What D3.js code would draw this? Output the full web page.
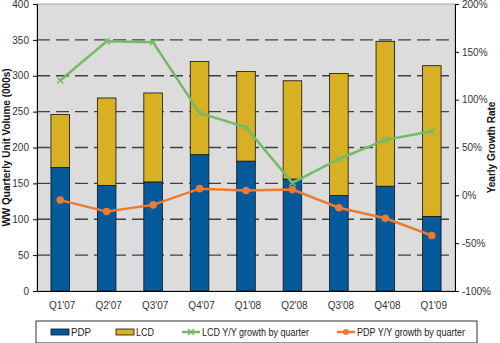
<!DOCTYPE html>
<html>
<head>
<meta charset="utf-8">
<script src="https://cdn.jsdelivr.net/npm/d3@7"></script>
<style>
  body { margin: 0; background: #fff; }
  svg { display: block; font-family: "Liberation Sans", Arial, sans-serif; }
  .tick text { font-size: 10px; fill: #333; }
</style>
</head>
<body>
<svg id="chart" width="500" height="343"></svg>
<script>
// quarters and values
const quarters = ["Q1'07", "Q2'07", "Q3'07", "Q4'07", "Q1'08", "Q2'08", "Q3'08", "Q4'08", "Q1'09"];
const pdpUnits = [172, 147, 152, 190, 181, 156, 133, 146, 104];
const lcdUnits = [74, 122, 124, 130, 125, 137, 170, 202, 210];
const lcdGrowth = [120, 161, 160, 86, 71, 13, 38, 58, 67];
const pdpGrowth = [-5, -17, -10, 7, 5, 6, -13, -24, -42];

const volTicks = [0, 50, 100, 150, 200, 250, 300, 350, 400];
const rateTicks = [-100, -50, 0, 50, 100, 150, 200];

const colors = { pdp: '#045a9a', lcd: '#d8b023', lcdLine: '#74ba67', pdpLine: '#ee7a30' };

const svg = d3.select('#chart');
const plot = { left: 37, right: 455, top: 4, bottom: 291 };

const x = d3.scaleBand().domain(quarters).range([plot.left, plot.right]).paddingInner(0.6).paddingOuter(0.3);
const yVol = d3.scaleLinear().domain([0, 400]).range([plot.bottom, plot.top]);
const yRate = d3.scaleLinear().domain([-100, 200]).range([plot.bottom, plot.top]);

// plot background
svg.append('rect')
    .attr('x', plot.left).attr('y', plot.top)
    .attr('width', plot.right - plot.left).attr('height', plot.bottom - plot.top)
    .attr('fill', '#dcdcdc')
    .attr('stroke', '#a8a8a8');

// dashed gridlines
svg.append('g')
    .selectAll('line')
    .data(volTicks.filter((t) => t > 0 && t < 400))
    .join('line')
    .attr('x1', plot.left).attr('x2', plot.right)
    .attr('y1', (d) => yVol(d)).attr('y2', (d) => yVol(d))
    .attr('stroke', '#404040')
    .attr('stroke-width', 1.3)
    .attr('stroke-dasharray', '13,6');

// stacked bars
const stacks = quarters.map((q, i) => ({ q, pdp: pdpUnits[i], lcd: lcdUnits[i] }));
const bars = svg.append('g').selectAll('g').data(stacks).join('g');
bars.append('rect')
    .attr('x', (d) => x(d.q)).attr('width', x.bandwidth())
    .attr('y', (d) => yVol(d.pdp)).attr('height', (d) => yVol(0) - yVol(d.pdp))
    .attr('fill', colors.pdp).attr('stroke', '#111').attr('stroke-width', 0.8);
bars.append('rect')
    .attr('x', (d) => x(d.q)).attr('width', x.bandwidth())
    .attr('y', (d) => yVol(d.pdp + d.lcd)).attr('height', (d) => yVol(d.pdp) - yVol(d.pdp + d.lcd))
    .attr('fill', colors.lcd).attr('stroke', '#111').attr('stroke-width', 0.8);

const cx = (q) => x(q) + x.bandwidth() / 2;

function drawLine(values, color, marker) {
    const pts = quarters.map((q, i) => [cx(q), yRate(values[i])]);
    svg.append('path')
        .attr('d', d3.line()(pts))
        .attr('fill', 'none').attr('stroke', color).attr('stroke-width', 2.5);
    const g = svg.append('g');
    if (marker === 'circle') {
        g.selectAll('circle').data(pts).join('circle')
            .attr('cx', (d) => d[0]).attr('cy', (d) => d[1]).attr('r', 3.8)
            .attr('fill', color);
    } else {
        g.selectAll('path').data(pts).join('path')
            .attr('d', (d) => `M${d[0] - 3},${d[1] - 3}L${d[0] + 3},${d[1] + 3}M${d[0] + 3},${d[1] - 3}L${d[0] - 3},${d[1] + 3}`)
            .attr('stroke', color).attr('stroke-width', 1.5);
    }
}
drawLine(lcdGrowth, colors.lcdLine, 'x');
drawLine(pdpGrowth, colors.pdpLine, 'circle');

// axes
const leftAxis = svg.append('g')
    .attr('transform', `translate(${plot.left},0)`)
    .call(d3.axisLeft(yVol).tickValues(volTicks).tickSize(4).tickPadding(4));
const rightAxis = svg.append('g')
    .attr('transform', `translate(${plot.right},0)`)
    .call(d3.axisRight(yRate).tickValues(rateTicks).tickSize(4).tickPadding(3).tickFormat((d) => d + '%'));
[leftAxis, rightAxis].forEach((a) => {
    a.select('.domain').attr('stroke', '#000');
    a.selectAll('.tick line').attr('stroke', '#000');
    a.selectAll('.tick text').attr('font-family', '"Liberation Sans", Arial, sans-serif');
});

const bottomAxis = svg.append('g')
    .attr('transform', `translate(0,${plot.bottom})`)
    .call(d3.axisBottom(x).tickSize(0).tickPadding(11));
bottomAxis.select('.domain').attr('stroke', '#000');
bottomAxis.selectAll('.tick text')
    .attr('font-family', '"Liberation Sans", Arial, sans-serif')
    .attr('dx', 2);

// axis titles
svg.append('text')
    .attr('transform', `translate(10,${(plot.top + plot.bottom) / 2}) rotate(-90)`)
    .attr('text-anchor', 'middle')
    .attr('font-size', 10).attr('font-weight', 'bold').attr('fill', '#111')
    .text('WW Quarterly Unit Volume (000s)');
svg.append('text')
    .attr('transform', `translate(495,${(plot.top + plot.bottom) / 2}) rotate(-90)`)
    .attr('text-anchor', 'middle')
    .attr('font-size', 10).attr('font-weight', 'bold').attr('fill', '#111')
    .text('Yearly Growth Rate');

// legend
const legend = svg.append('g');
legend.append('rect')
    .attr('x', 36).attr('y', 321).attr('width', 441).attr('height', 22)
    .attr('fill', '#fff').attr('stroke', '#000').attr('stroke-width', 0.8);

const legendItems = [
    { label: 'PDP', type: 'bar', color: colors.pdp, x: 51, w: 20 },
    { label: 'LCD', type: 'bar', color: colors.lcd, x: 116, w: 18 },
    { label: 'LCD Y/Y growth by quarter', type: 'x', color: colors.lcdLine, x: 182, w: 107 },
    { label: 'PDP Y/Y growth by quarter', type: 'circle', color: colors.pdpLine, x: 337, w: 108 },
];
const ly = 332;
legendItems.forEach((it) => {
    if (it.type === 'bar') {
        legend.append('rect')
            .attr('x', it.x).attr('y', ly - 3).attr('width', 18).attr('height', 6)
            .attr('fill', it.color).attr('stroke', '#111').attr('stroke-width', 0.8);
    } else {
        legend.append('line')
            .attr('x1', it.x).attr('x2', it.x + 18).attr('y1', ly).attr('y2', ly)
            .attr('stroke', it.color).attr('stroke-width', 2.5);
        const mx = it.x + 9;
        if (it.type === 'circle') {
            legend.append('circle').attr('cx', mx).attr('cy', ly).attr('r', 3).attr('fill', it.color);
        } else {
            legend.append('path')
                .attr('d', `M${mx - 3},${ly - 3}L${mx + 3},${ly + 3}M${mx + 3},${ly - 3}L${mx - 3},${ly + 3}`)
                .attr('stroke', it.color).attr('stroke-width', 1.5);
        }
    }
    legend.append('text')
        .attr('x', it.x + 20).attr('y', ly + 3.5)
        .attr('font-size', 10).attr('fill', '#222')
        .attr('textLength', it.w).attr('lengthAdjust', 'spacingAndGlyphs')
        .text(it.label);
});
</script>
</body>
</html>
